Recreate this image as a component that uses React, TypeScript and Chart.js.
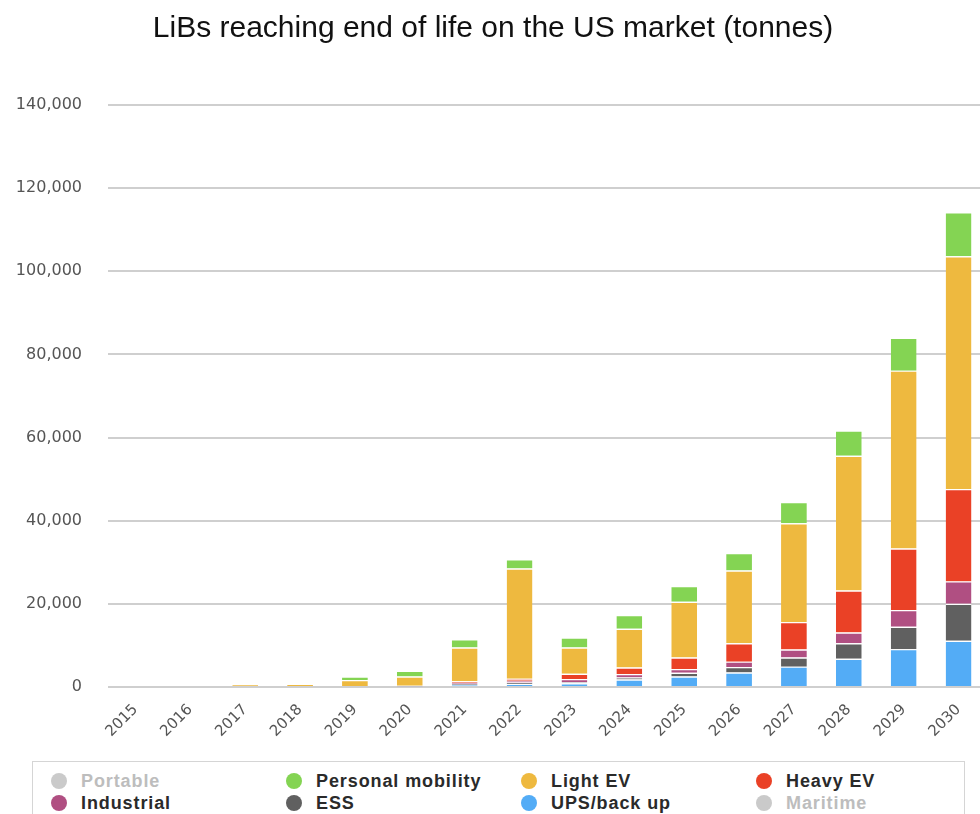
import React, { useEffect, useRef } from "react";
import { Chart, registerables } from "chart.js";

Chart.register(...registerables);

const years = ["2015","2016","2017","2018","2019","2020","2021","2022","2023","2024","2025","2026","2027","2028","2029","2030"];

const upsBackUp =      [0, 0, 0,   0,   0,    100,  500,  700,   900,  1800, 2500,  3500,  4900,  6800,  9100,  11100];
const ess =            [0, 0, 0,   0,   0,    50,   200,  400,   300,  500,  900,   1300,  2200,  3700,  5400,  8900];
const industrial =     [0, 0, 0,   0,   0,    50,   300,  400,   700,  800,  900,   1300,  1900,  2600,  4000,  5400];
const heavyEV =        [0, 0, 0,   0,   0,    100,  400,  500,   1300, 1600, 2800,  4400,  6600,  10100, 14800, 22200];
const lightEV =        [0, 0, 600, 700, 1700, 2200, 8100, 26500, 6300, 9300, 13400, 17500, 23800, 32400, 42800, 56000];
const personalMobility=[0, 0, 0,   0,   800,  1400, 2000, 2200,  2400, 3300, 3800,  4200,  5100,  6100,  7900,  10600];

const yTicks = [0, 20000, 40000, 60000, 80000, 100000, 120000, 140000];

const COLORS = {
  portable: "#cacaca",
  personal: "#84d453",
  light: "#eeb93f",
  heavy: "#ea4126",
  industrial: "#b04f82",
  ess: "#606060",
  ups: "#53acf6",
  maritime: "#cacaca",
};

const legendItems = [
  { label: "Portable", color: COLORS.portable, hidden: true },
  { label: "Personal mobility", color: COLORS.personal, hidden: false },
  { label: "Light EV", color: COLORS.light, hidden: false },
  { label: "Heavy EV", color: COLORS.heavy, hidden: false },
  { label: "Industrial", color: COLORS.industrial, hidden: false },
  { label: "ESS", color: COLORS.ess, hidden: false },
  { label: "UPS/back up", color: COLORS.ups, hidden: false },
  { label: "Maritime", color: COLORS.maritime, hidden: true },
];

export default function App() {
  const ref = useRef<HTMLCanvasElement | null>(null);

  useEffect(() => {
    if (!ref.current) return;
    const mk = (label: string, data: number[], color: string) => ({
      label,
      data,
      backgroundColor: color,
      borderColor: "rgba(255,255,255,0.95)",
      borderWidth: { top: 1.2, left: 0, right: 0, bottom: 0 },
      borderSkipped: false as const,
      stack: "s",
    });
    const chart = new Chart(ref.current, {
      type: "bar",
      data: {
        labels: years,
        datasets: [
          mk("UPS/back up", upsBackUp, COLORS.ups),
          mk("ESS", ess, COLORS.ess),
          mk("Industrial", industrial, COLORS.industrial),
          mk("Heavy EV", heavyEV, COLORS.heavy),
          mk("Light EV", lightEV, COLORS.light),
          mk("Personal mobility", personalMobility, COLORS.personal),
        ],
      },
      options: {
        animation: false,
        responsive: false,
        devicePixelRatio: 1,
        layout: { padding: { left: 0, right: 4, top: 0, bottom: 0 } },
        datasets: { bar: { categoryPercentage: 1, barPercentage: 0.47 } },
        plugins: {
          legend: { display: false },
          tooltip: { enabled: false },
          title: {
            display: true,
            text: "LiBs reaching end of life on the US market (tonnes)",
            color: "#111",
            font: { family: "'Liberation Sans', Arial, sans-serif", size: 30, weight: "normal", lineHeight: 1.2 },
            padding: { top: 11, bottom: 58 },
          },
        },
        scales: {
          x: {
            stacked: true,
            grid: { display: false },
            border: { display: false },
            ticks: {
              color: "#555",
              font: { family: "'DejaVu Sans', sans-serif", size: 15 },
              maxRotation: 45,
              minRotation: 45,
              padding: 6,
            },
            afterFit: (s: any) => { s.height = 127; },
          },
          y: {
            stacked: true,
            min: 0,
            max: 140000,
            afterBuildTicks: (s: any) => { s.ticks = yTicks.map((v) => ({ value: v })); },
            grid: { color: "#cfcfcf", lineWidth: 2, drawTicks: false },
            border: { display: false },
            ticks: {
              color: "#555",
              font: { family: "'DejaVu Sans', sans-serif", size: 16 },
              padding: 26,
              callback: (v: any) => Number(v).toLocaleString("en-US"),
            },
            afterFit: (s: any) => { s.width = 108; },
          },
        },
      },
    });
    return () => chart.destroy();
  }, []);

  return (
    <div style={{ position: "fixed", left: 0, top: 0, width: 980, height: 814, overflow: "hidden", background: "#fff" }}>
      <canvas ref={ref} width={990} height={814} style={{ display: "block", width: 990, height: 814 }} />
      <div
        style={{
          position: "absolute",
          left: 32,
          top: 761,
          width: 933,
          height: 70,
          border: "1px solid #d5d5d5",
          background: "#fff",
          boxSizing: "border-box",
        }}
      >
        {legendItems.map((it, i) => {
          const col = i % 4;
          const row = Math.floor(i / 4);
          return (
            <div
              key={it.label}
              style={{
                position: "absolute",
                left: 18 + col * 235,
                top: 8 + row * 22,
                height: 22,
                display: "flex",
                alignItems: "center",
                whiteSpace: "nowrap",
              }}
            >
              <span
                style={{
                  display: "inline-block",
                  width: 16,
                  height: 16,
                  borderRadius: "50%",
                  background: it.color,
                  marginRight: 14,
                }}
              />
              <span
                style={{
                  fontFamily: "'Liberation Sans', Arial, sans-serif",
                  fontWeight: "bold",
                  fontSize: 18,
                  letterSpacing: 0.9,
                  color: it.hidden ? "#bdbdbd" : "#2a2a2a",
                  lineHeight: "22px",
                }}
              >
                {it.label}
              </span>
            </div>
          );
        })}
      </div>
    </div>
  );
}
